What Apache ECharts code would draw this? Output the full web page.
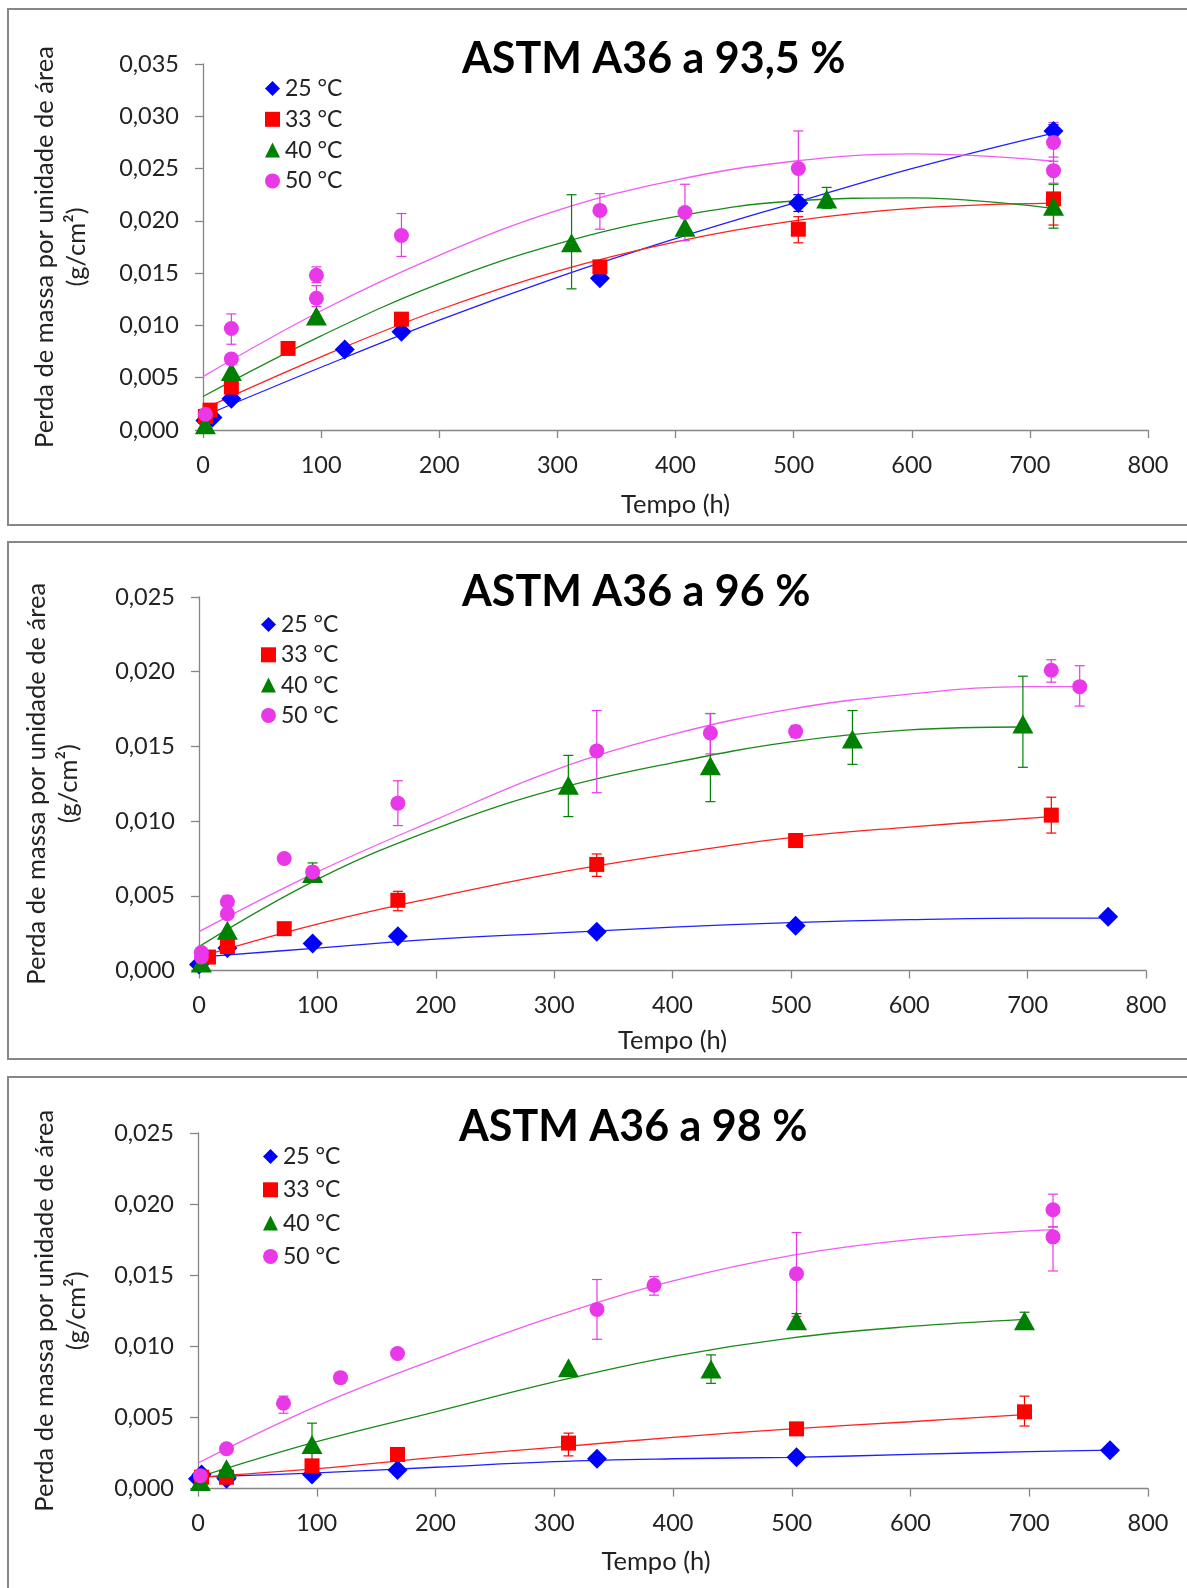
<!DOCTYPE html>
<html><head><meta charset="utf-8">
<script src="https://cdn.jsdelivr.net/npm/echarts@6/dist/echarts.min.js"></script>
<style>html,body{margin:0;padding:0;background:#fff}#c{width:1187px;height:1588px}</style>
</head><body><div id="c"></div>
<script>
// ---------- text ----------
const titles = ['ASTM A36 a 93,5 %', 'ASTM A36 a 96 %', 'ASTM A36 a 98 %'];
const temps = ['25 °C', '33 °C', '40 °C', '50 °C'];
const xName = 'Tempo (h)';
const yName = 'Perda de massa por unidade de área\n(g/cm²)';
const xTicks = [0, 100, 200, 300, 400, 500, 600, 700, 800];
const yMax = [0.035, 0.025, 0.025];

// ---------- panel 1: 93,5 % ----------
const h25_p1 = [2, 8, 24, 120, 168, 336, 504, 720];
const v25_p1 = [0.0009, 0.0012, 0.0030, 0.0077, 0.0094, 0.0145, 0.0217, 0.0286];
const h33_p1 = [2, 6, 24, 72, 168, 336, 504, 720];
const v33_p1 = [0.0013, 0.0019, 0.0041, 0.0078, 0.0106, 0.0156, 0.0192, 0.0221];
const h40_p1 = [2, 24, 96, 312, 408, 528, 720];
const v40_p1 = [0.0005, 0.0056, 0.0109, 0.0179, 0.0194, 0.0221, 0.0214];
const h50_p1 = [2, 24, 24, 96, 96, 168, 336, 408, 504, 720, 720];
const v50_p1 = [0.0015, 0.0097, 0.0068, 0.0148, 0.0126, 0.0186, 0.0210, 0.0208, 0.0250, 0.0275, 0.0248];
const e25_p1 = [[504, 0.0209, 0.0225], [720, 0.0280, 0.0292]];
const e33_p1 = [[504, 0.0179, 0.0204], [720, 0.0196, 0.0226]];
const e40_p1 = [[312, 0.0135, 0.0225], [528, 0.0212, 0.0232], [720, 0.0193, 0.0235]];
const e50_p1 = [[24, 0.0082, 0.0111], [96, 0.0141, 0.0156], [96, 0.0118, 0.0138], [168, 0.0166, 0.0207],
  [336, 0.0192, 0.0226], [408, 0.0181, 0.0235], [504, 0.0214, 0.0286], [720, 0.0257, 0.0294], [720, 0.0236, 0.0261]];
const t25_p1 = [[0, 0.0013], [100, 0.0060], [200, 0.0105], [300, 0.0146], [400, 0.0183], [500, 0.0217], [600, 0.0250], [720, 0.0284]];
const t33_p1 = [[0, 0.0020], [100, 0.0070], [200, 0.0115], [300, 0.0152], [400, 0.0180], [500, 0.0200], [600, 0.0212], [720, 0.0217]];
const t40_p1 = [[0, 0.0032], [100, 0.0090], [200, 0.0140], [300, 0.0178], [400, 0.0204], [500, 0.0219], [600, 0.0222], [720, 0.0212]];
const t50_p1 = [[0, 0.0051], [100, 0.0114], [200, 0.0167], [300, 0.0210], [400, 0.0239], [500, 0.0257], [600, 0.0264], [720, 0.0257]];

// ---------- panel 2: 96 % ----------
const h25_p2 = [0, 5, 24, 96, 168, 336, 504, 768];
const v25_p2 = [0.0004, 0.0008, 0.0015, 0.0018, 0.0023, 0.0026, 0.0030, 0.0036];
const h33_p2 = [8, 24, 72, 168, 336, 504, 720];
const v33_p2 = [0.0009, 0.0016, 0.0028, 0.0047, 0.0071, 0.0087, 0.0104];
const h40_p2 = [2, 24, 96, 312, 432, 552, 696];
const v40_p2 = [0.0005, 0.0027, 0.0065, 0.0124, 0.0137, 0.0155, 0.0165];
const h50_p2 = [2, 2, 24, 24, 72, 96, 168, 336, 432, 504, 720, 744];
const v50_p2 = [0.0012, 0.0009, 0.0046, 0.0038, 0.0075, 0.0066, 0.0112, 0.0147, 0.0159, 0.0160, 0.0201, 0.0190];
const e25_p2 = [];
const e33_p2 = [[168, 0.0040, 0.0053], [336, 0.0063, 0.0078], [720, 0.0092, 0.0116]];
const e40_p2 = [[96, 0.0062, 0.0072], [312, 0.0103, 0.0144], [432, 0.0113, 0.0172], [552, 0.0138, 0.0174], [696, 0.0136, 0.0197]];
const e50_p2 = [[24, 0.0041, 0.0050], [168, 0.0097, 0.0127], [336, 0.0119, 0.0174], [432, 0.0145, 0.0172],
  [504, 0.0156, 0.0164], [720, 0.0193, 0.0208], [744, 0.0177, 0.0204]];
const t25_p2 = [[0, 0.0009], [100, 0.0015], [200, 0.0021], [300, 0.0025], [400, 0.0029], [500, 0.0032], [600, 0.0034], [700, 0.0035], [768, 0.0035]];
const t33_p2 = [[0, 0.0009], [100, 0.0031], [200, 0.0049], [300, 0.0065], [400, 0.0078], [500, 0.0089], [600, 0.0096], [720, 0.0103]];
const t40_p2 = [[0, 0.0016], [100, 0.0061], [200, 0.0095], [300, 0.0121], [400, 0.0139], [500, 0.0153], [600, 0.0161], [696, 0.0163]];
const t50_p2 = [[0, 0.0026], [100, 0.0066], [200, 0.0101], [300, 0.0134], [400, 0.0158], [500, 0.0175], [600, 0.0185], [700, 0.0190], [744, 0.0190]];

// ---------- panel 3: 98 % ----------
const h25_p3 = [0, 3, 24, 96, 168, 336, 504, 768];
const v25_p3 = [0.0007, 0.0010, 0.0007, 0.0010, 0.0013, 0.0021, 0.0022, 0.0027];
const h33_p3 = [3, 24, 96, 168, 312, 504, 696];
const v33_p3 = [0.0008, 0.0008, 0.0016, 0.0024, 0.0032, 0.0042, 0.0054];
const h40_p3 = [2, 24, 96, 312, 432, 504, 696];
const v40_p3 = [0.0005, 0.0014, 0.0031, 0.0085, 0.0084, 0.0118, 0.0118];
const h50_p3 = [2, 24, 72, 120, 168, 336, 384, 504, 720, 720];
const v50_p3 = [0.0009, 0.0028, 0.0060, 0.0078, 0.0095, 0.0126, 0.0143, 0.0151, 0.0196, 0.0177];
const e25_p3 = [];
const e33_p3 = [[312, 0.0023, 0.0039], [696, 0.0044, 0.0065]];
const e40_p3 = [[96, 0.0016, 0.0046], [432, 0.0074, 0.0094], [504, 0.0113, 0.0123], [696, 0.0113, 0.0124]];
const e50_p3 = [[72, 0.0053, 0.0065], [120, 0.0074, 0.0081], [336, 0.0105, 0.0147], [384, 0.0136, 0.0149],
  [504, 0.0121, 0.0180], [720, 0.0184, 0.0207], [720, 0.0153, 0.0184]];
const t25_p3 = [[0, 0.0008], [100, 0.0011], [200, 0.0015], [300, 0.0019], [400, 0.0021], [500, 0.0022], [600, 0.0024], [700, 0.0026], [768, 0.0027]];
const t33_p3 = [[0, 0.0008], [100, 0.0014], [200, 0.0022], [300, 0.0029], [400, 0.0036], [500, 0.0042], [600, 0.0047], [696, 0.0052]];
const t40_p3 = [[0, 0.0008], [100, 0.0033], [200, 0.0054], [300, 0.0075], [400, 0.0093], [500, 0.0106], [600, 0.0114], [696, 0.0119]];
const t50_p3 = [[0, 0.0018], [100, 0.0058], [200, 0.0091], [300, 0.0121], [400, 0.0146], [500, 0.0164], [600, 0.0175], [720, 0.0182]];

// ---------- assembly ----------
const H = [[h25_p1, h33_p1, h40_p1, h50_p1], [h25_p2, h33_p2, h40_p2, h50_p2], [h25_p3, h33_p3, h40_p3, h50_p3]];
const V = [[v25_p1, v33_p1, v40_p1, v50_p1], [v25_p2, v33_p2, v40_p2, v50_p2], [v25_p3, v33_p3, v40_p3, v50_p3]];
const E = [[e25_p1, e33_p1, e40_p1, e50_p1], [e25_p2, e33_p2, e40_p2, e50_p2], [e25_p3, e33_p3, e40_p3, e50_p3]];
const T = [[t25_p1, t33_p1, t40_p1, t50_p1], [t25_p2, t33_p2, t40_p2, t50_p2], [t25_p3, t33_p3, t40_p3, t50_p3]];

const FONT = 'Lato';
const markColor = ['#0000FF', '#FF0000', '#008000', '#E838E8'];
const lineColor = ['#1F1FFF', '#FF2020', '#1A8A1A', '#F25CF2'];
const symbols = ['diamond', 'rect', 'triangle', 'circle'];
const symSize = [20, 15, [21, 19], 15];

const layout = [
  { grid: { left: 203, top: 64, width: 945, height: 366 }, title: { left: 462, top: 38 },
    legend: { left: 265, top: 77, itemGap: 7.8 }, yGap: 110, xGap: 62, xPad: [0, 0, 0, 0], box: [8, 9, 1200, 516] },
  { grid: { left: 199, top: 597, width: 947, height: 373.5 }, title: { left: 462, top: 571 },
    legend: { left: 261, top: 613, itemGap: 7.3 }, yGap: 114, xGap: 57, xPad: [0, 0, 0, 0], box: [8, 542, 1200, 517] },
  { grid: { left: 198, top: 1133, width: 950, height: 355.6 }, title: { left: 459, top: 1106 },
    legend: { left: 263, top: 1145, itemGap: 10.3 }, yGap: 105, xGap: 60, xPad: [0, 34, 0, 0], box: [8, 1077, 1200, 540] }
];

const axisLine = { lineStyle: { color: '#868686', width: 1.3 } };
const labelStyle = { fontFamily: FONT, fontSize: 23.5, color: '#222' };

function errRender(color) {
  return function (params, api) {
    const x = api.value(0), lo = api.value(1), hi = api.value(2);
    const a = api.coord([x, hi]), b = api.coord([x, lo]);
    const w = 5;
    const st = { stroke: color, lineWidth: 1.2 };
    return { type: 'group', children: [
      { type: 'line', shape: { x1: a[0], y1: a[1], x2: b[0], y2: b[1] }, style: st },
      { type: 'line', shape: { x1: a[0] - w, y1: a[1], x2: a[0] + w, y2: a[1] }, style: st },
      { type: 'line', shape: { x1: b[0] - w, y1: b[1], x2: b[0] + w, y2: b[1] }, style: st }
    ]};
  };
}

const option = {
  backgroundColor: '#fff', animation: false,
  title: [], legend: [], grid: [], xAxis: [], yAxis: [], series: [],
  graphic: []
};

for (let p = 0; p < 3; p++) {
  const L = layout[p];
  option.graphic.push({ type: 'rect', shape: { x: L.box[0], y: L.box[1], width: L.box[2], height: L.box[3] },
    style: { fill: 'none', stroke: '#878787', lineWidth: 2 }, silent: true, z: -10 });
  option.title.push({ text: titles[p], left: L.title.left, top: L.title.top, padding: 0,
    textStyle: { fontFamily: FONT, fontWeight: 'bold', fontSize: 43, color: '#000' } });
  option.legend.push({ orient: 'vertical', left: L.legend.left, top: L.legend.top, padding: 0,
    itemGap: L.legend.itemGap, itemWidth: 15, itemHeight: 15, selectedMode: false,
    textStyle: { fontFamily: FONT, fontSize: 23, color: '#222', lineHeight: 22, padding: [0, 0, 0, 0] },
    data: temps.map((n, k) => ({ name: n, icon: symbols[k] })) });
  option.grid.push(L.grid);
  option.xAxis.push({ type: 'value', gridIndex: p, min: xTicks[0], max: xTicks[xTicks.length - 1], interval: 100,
    name: xName, nameLocation: 'middle', nameGap: L.xGap,
    nameTextStyle: { fontFamily: FONT, fontSize: 25.5, color: '#222', padding: L.xPad },
    axisLine: axisLine, axisTick: { show: true, length: 8, lineStyle: { color: '#868686', width: 1.3 } },
    axisLabel: Object.assign({ margin: 23 }, labelStyle), splitLine: { show: false } });
  option.yAxis.push({ type: 'value', gridIndex: p, min: 0, max: yMax[p], interval: 0.005,
    name: yName, nameLocation: 'middle', nameRotate: 90, nameGap: L.yGap,
    nameTextStyle: { fontFamily: FONT, fontSize: 25.5, color: '#222', lineHeight: 32 },
    axisLine: Object.assign({ show: true }, axisLine),
    axisTick: { show: true, length: 8, lineStyle: { color: '#868686', width: 1.3 } },
    axisLabel: Object.assign({ margin: 24, formatter: v => v.toFixed(3).replace('.', ',') }, labelStyle),
    splitLine: { show: false } });
  for (let k = 0; k < 4; k++) {
    option.series.push({ type: 'line', name: 'tendência ' + temps[k] + ' ' + (p + 1), xAxisIndex: p, yAxisIndex: p,
      data: T[p][k], smooth: 0.4, showSymbol: false, symbol: 'none', z: 2,
      lineStyle: { color: lineColor[k], width: 1.3 }, itemStyle: { color: lineColor[k] }, silent: true });
  }
  for (let k = 0; k < 4; k++) {
    option.series.push({ type: 'custom', name: 'erro ' + temps[k] + ' ' + (p + 1), xAxisIndex: p, yAxisIndex: p,
      data: E[p][k], encode: { x: 0, y: [1, 2] }, renderItem: errRender(markColor[k]), z: 3, silent: true });
  }
  for (let k = 0; k < 4; k++) {
    option.series.push({ type: 'scatter', name: temps[k], xAxisIndex: p, yAxisIndex: p,
      data: H[p][k].map((h, i) => [h, V[p][k][i]]), symbol: symbols[k], symbolSize: symSize[k],
      itemStyle: { color: markColor[k], opacity: 1 }, z: 4 });
  }
}

const chart = echarts.init(document.getElementById('c'), null, { renderer: 'canvas' });
chart.setOption(option);
</script></body></html>
